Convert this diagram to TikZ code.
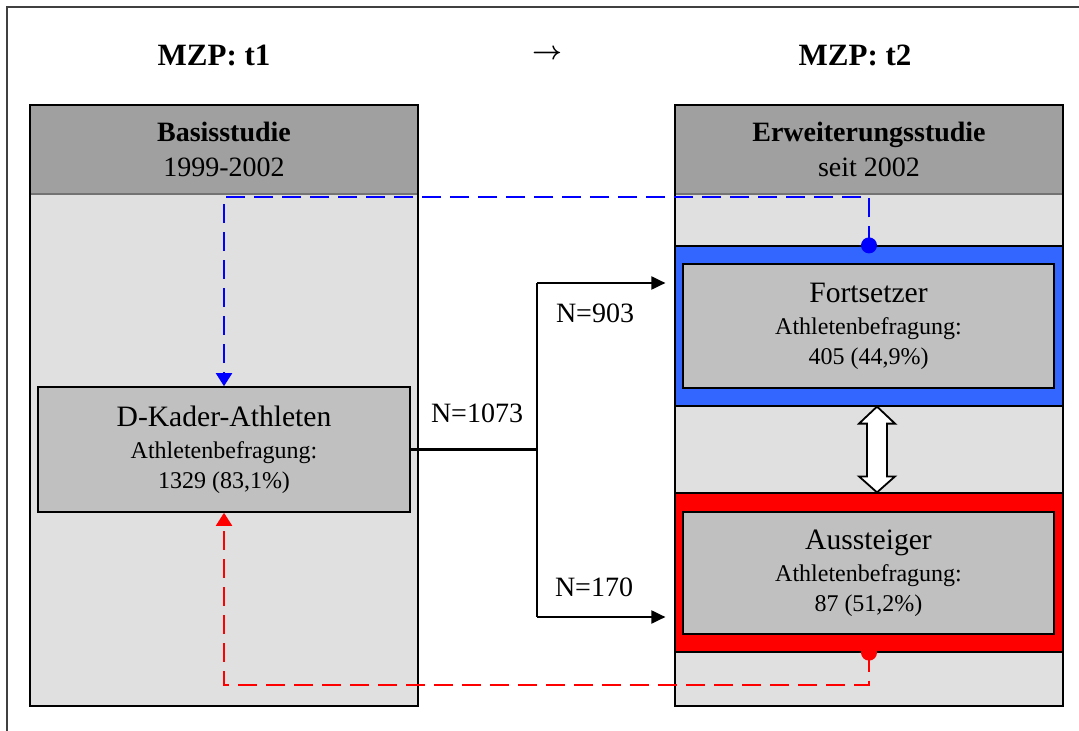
\documentclass[tikz,border=0pt]{standalone}
\usepackage{fontspec}
\setmainfont{Liberation Serif}
\usetikzlibrary{arrows.meta,calc}

\definecolor{headgray}{HTML}{A0A0A0}
\definecolor{bodygray}{HTML}{E0E0E0}
\definecolor{boxgray}{HTML}{C0C0C0}
\definecolor{bandblue}{HTML}{3366FF}
\definecolor{dashblue}{HTML}{0000FF}
\definecolor{dashred}{HTML}{FF0000}

\tikzset{
  title/.style={font=\fontsize{15.5}{18}\selectfont\bfseries},
  colhead/.style={fill=headgray, minimum width=194pt, minimum height=44pt,
    inner sep=0pt, align=center, font=\fontsize{14}{17.5}\selectfont},
  band/.style={draw=black, line width=0.6pt, minimum width=194pt, inner sep=0pt},
  infobox/.style={draw=black, line width=0.8pt, fill=boxgray, inner sep=0pt,
    align=center, font=\fontsize{12}{15}\selectfont},
  flow/.style={line width=1pt, -{Triangle[length=7pt,width=6.5pt]}},
  nlabel/.style={font=\fontsize{14}{16}\selectfont},
  backdash/.style={line width=1pt, dash pattern=on 9.5pt off 4.5pt,
    -{Triangle[length=6.5pt,width=8pt]}}
}

\begin{document}
\begin{tikzpicture}[x=0.5pt, y=-0.5pt]
\useasboundingbox (0,0) rectangle (1079,731);
\draw[line width=0.7pt, black!75] (7,731) -- (7,7) -- (1079,7);  % frame

% titles
\node[title] (t1) at (214,55) {MZP: t1};
\node (tarrow) at (547,54) {\scalebox{1.3}{\boldmath$\rightarrow$}};
\node[title] (t2) at (855,55) {MZP: t2};

% left column
\fill[bodygray] (30,105) rectangle (418,706);
\node[colhead, anchor=north] (basis) at (224,105) {\textbf{Basisstudie}\\1999-2002};
\draw[line width=0.8pt, black!55] (basis.south west) -- (basis.south east);

% right column
\fill[bodygray] (675,105) rectangle (1063,706);
\node[colhead, anchor=north] (erweit) at (869,105) {\textbf{Erweiterungsstudie}\\seit 2002};
\draw[line width=0.8pt, black!55] (erweit.south west) -- (erweit.south east);

\node[band, fill=bandblue, minimum height=80pt] (blueband) at (869,326) {};
\node[band, fill=dashred, minimum height=79.5pt] (redband) at (869,572.5) {};

\draw[line width=1pt] (30,105) rectangle (418,706);
\draw[line width=1pt] (675,105) rectangle (1063,706);

% boxes
\node[infobox, minimum width=186pt, minimum height=62.5pt] (dkader) at (224,449.5)
  {{\fontsize{14.8}{16}\selectfont D-Kader-Athleten}\\[1pt]Athletenbefragung:\\1329 (83,1\%)};
\node[infobox, minimum width=185.5pt, minimum height=62pt] (fort) at (868.5,326)
  {{\fontsize{14.8}{16}\selectfont Fortsetzer}\\[1pt]Athletenbefragung:\\405 (44,9\%)};
\node[infobox, minimum width=185.5pt, minimum height=61pt] (aus) at (868.5,573)
  {{\fontsize{14.8}{16}\selectfont Aussteiger}\\[1pt]Athletenbefragung:\\87 (51,2\%)};

% split of the sample
\coordinate (split) at (537,449.5);
\coordinate (up) at (537,283);
\coordinate (down) at (537,617);
\draw[line width=1.6pt] (dkader.east) -- (split);
\draw[line width=1pt] (up) -- (down);
\draw[flow] (up) -- ($(up -| blueband.west)+(-9,0)$);
\draw[flow] (down) -- ($(down -| redband.west)+(-9,0)$);
\node[nlabel] (n1073) at (477,413) {N=1073};
\node[nlabel] (n903) at (595,313) {N=903};
\node[nlabel] (n170) at (594,587) {N=170};

% back references
\draw[backdash, dashblue] (blueband.north) -- ++(0,-48) -| (dkader.north);
\draw[backdash, dashred] (redband.south) -- ++(0,32) -| (dkader.south);
\fill[dashblue] (blueband.north) circle (4pt);
\fill[dashred] (redband.south) circle (4pt);

% comparison arrow
\coordinate (tipA) at ($(blueband.south)+(8,0)$);
\coordinate (tipB) at ($(redband.north)+(8,0)$);
\draw[line width=0.9pt, fill=white, line join=miter]
    (tipA) -- ($(tipA)+(18,17)$) -- ($(tipA)+(10,17)$) --
    ($(tipB)+(10,-16)$) -- ($(tipB)+(18,-16)$) -- (tipB) --
    ($(tipB)+(-18,-16)$) -- ($(tipB)+(-10,-16)$) --
    ($(tipA)+(-10,17)$) -- ($(tipA)+(-18,17)$) -- cycle;
\end{tikzpicture}
\end{document}
